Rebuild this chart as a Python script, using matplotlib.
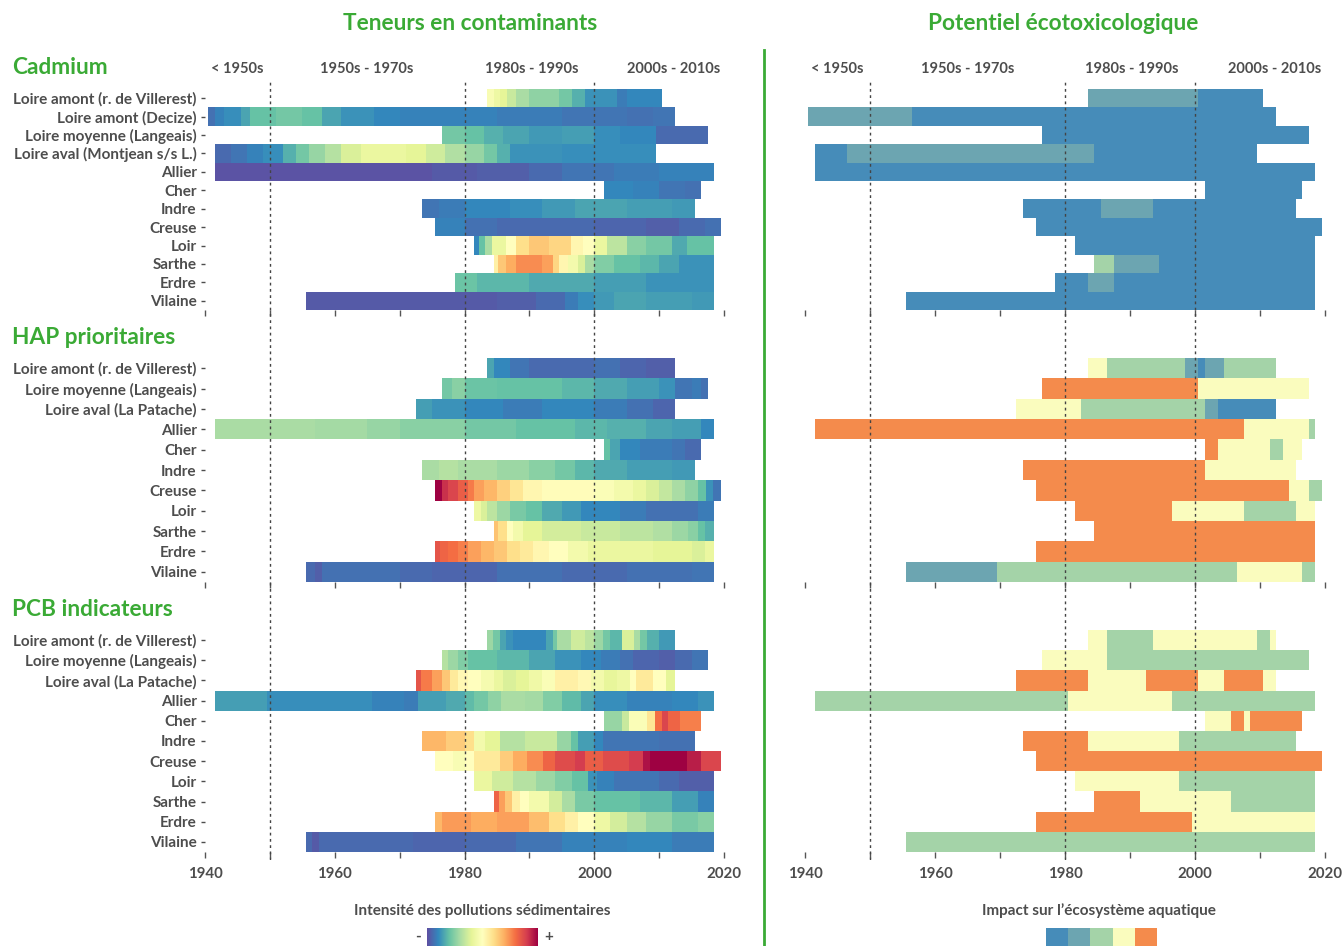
import matplotlib
matplotlib.use('Agg')
import matplotlib.pyplot as plt
import numpy as np
from matplotlib.colors import ListedColormap
from matplotlib.lines import Line2D

plt.rcParams['font.family'] = ['Lato', 'DejaVu Sans']
plt.rcParams['font.weight'] = 'bold'

# ---------------- DATA ----------------
decade_labels = ['< 1950s', '1950s - 1970s', '1980s - 1990s', '2000s - 2010s']
decade_pos = [1945, 1965, 1990.3, 2012.3]
decade_lines = [1950, 1980, 2000]

cd_rows = ['Loire amont (r. de Villerest)', 'Loire amont (Decize)', 'Loire moyenne (Langeais)',
           'Loire aval (Montjean s/s L.)', 'Allier', 'Cher', 'Indre', 'Creuse', 'Loir', 'Sarthe',
           'Erdre', 'Vilaine']
cd_end = [2010.5, 2012.5, 2017.5, 2009.5, 2018.5, 2016.5, 2015.5, 2019.5, 2018.5, 2018.5, 2018.5, 2018.5]
cd_breaks = [
    [1983.5, 1984.5, 1985.5, 1986.5, 1988, 1990, 1994.5, 1996.5, 1998.5, 2003.5, 2005],
    [1940.5, 1941.5, 1943, 1945.5, 1947, 1951, 1955, 1958, 1961, 1966, 1970, 1985, 1995, 2005, 2009],
    [1976.5, 1980, 1983, 1986, 1990, 1995, 2000, 2004, 2009.5],
    [1941.5, 1944, 1946.5, 1949, 1952, 1954, 1956, 1958.5, 1961, 1964, 1971, 1974, 1977, 1980, 1983, 1985, 1987, 1995],
    [1941.5, 1975, 1982, 1990, 1995, 2003, 2010],
    [2001.5, 2006, 2010, 2014],
    [1973.5, 1976, 1980, 1987, 1992, 1997, 2005, 2012],
    [1975.5, 1980, 1985, 2000, 2008, 2013, 2017],
    [1981.5, 1982.2, 1983.2, 1984.3, 1986.4, 1988, 1990, 1993, 1996.4, 1998.2, 2000, 2002, 2005, 2008, 2012, 2014.3],
    [1984.5, 1985.2, 1986.4, 1988, 1992, 1993.6, 1994.6, 1996, 1997.5, 1998.5, 2000, 2003, 2007, 2010, 2013],
    [1978.5, 1982, 1990, 2000, 2008],
    [1955.5, 1985, 1991, 1995.5, 1997.5, 2000, 2003, 2008, 2015],
]
cd_vals = [
    [0.47, 0.43, 0.4, 0.35, 0.3, 0.26, 0.22, 0.17, 0.12, 0.08, 0.1],
    [0.06, 0.09, 0.11, 0.15, 0.2, 0.22, 0.2, 0.15, 0.12, 0.1, 0.09, 0.08, 0.07, 0.06, 0.07],
    [0.22, 0.2, 0.17, 0.15, 0.13, 0.14, 0.11, 0.1, 0.05],
    [0.05, 0.07, 0.09, 0.11, 0.17, 0.22, 0.27, 0.32, 0.38, 0.42, 0.4, 0.36, 0.31, 0.27, 0.22, 0.17, 0.12, 0.11],
    [0.01, 0.02, 0.03, 0.05, 0.07, 0.08, 0.09],
    [0.1, 0.09, 0.07, 0.06],
    [0.07, 0.08, 0.1, 0.11, 0.13, 0.15, 0.14, 0.13],
    [0.09, 0.06, 0.05, 0.04, 0.03, 0.05, 0.06],
    [0.1, 0.2, 0.3, 0.42, 0.5, 0.6, 0.65, 0.62, 0.53, 0.5, 0.42, 0.33, 0.25, 0.22, 0.16, 0.2],
    [0.55, 0.65, 0.7, 0.75, 0.72, 0.62, 0.53, 0.45, 0.38, 0.3, 0.24, 0.2, 0.18, 0.15, 0.12],
    [0.21, 0.18, 0.16, 0.14, 0.12],
    [0.02, 0.03, 0.05, 0.08, 0.11, 0.13, 0.15, 0.14, 0.13],
]
cd_imp_breaks = [
    [1983.5, 2000.5], [1940.5, 1956.5], [1976.5], [1941.5, 1946.5, 1984.5], [1941.5], [2001.5],
    [1973.5, 1985.5, 1993.5], [1975.5], [1981.5], [1984.5, 1987.5, 1994.5], [1978.5, 1983.5, 1987.5], [1955.5],
]
cd_imp_cats = [[1, 0], [1, 0], [0], [0, 1, 0], [0], [0], [0, 1, 0], [0], [0], [2, 1, 0], [0, 1, 0], [0]]

hap_rows = ['Loire amont (r. de Villerest)', 'Loire moyenne (Langeais)', 'Loire aval (La Patache)',
            'Allier', 'Cher', 'Indre', 'Creuse', 'Loir', 'Sarthe', 'Erdre', 'Vilaine']
hap_end = [2012.5, 2017.5, 2012.5, 2018.5, 2016.5, 2015.5, 2019.5, 2018.5, 2018.5, 2018.5, 2018.5]
hap_breaks = [
    [1983.5, 1984.5, 1987, 1990, 2000, 2004, 2008],
    [1976.5, 1978, 1980, 1985, 1995, 2000, 2005, 2010, 2012.5, 2015, 2016.5],
    [1972.5, 1975, 1980, 1986, 1992, 2000, 2005, 2009],
    [1941.5, 1957, 1965, 1970, 1980, 1988, 1997, 2002, 2008, 2012, 2016.5],
    [2001.5, 2002.5, 2004, 2007, 2012, 2014],
    [1973.5, 1976, 1979, 1985, 1990, 1994, 1997, 2000, 2005, 2012],
    [1975.5, 1976.5, 1977.5, 1979, 1980.5, 1981.5, 1983, 1985, 1987, 1989, 1992, 2000, 2003, 2006, 2008, 2010, 2012, 2014, 2016, 2017.2, 2018.3],
    [1981.5, 1982.5, 1983.5, 1985, 1987, 1989.5, 1992, 1995, 1998, 2004, 2008, 2016],
    [1984.5, 1985.2, 1986.5, 1987.5, 1989, 1992, 1998, 2004, 2009, 2012, 2014.5, 2016, 2017],
    [1975.5, 1976.3, 1977.5, 1979, 1980.5, 1982.5, 1984.5, 1986.5, 1988.5, 1990.5, 1993, 1996, 1999, 2009, 2015, 2017],
    [1955.5, 1957, 1958, 1970, 1975, 1985, 1995, 2005, 2015],
]
hap_vals = [
    [0.15, 0.1, 0.07, 0.05, 0.06, 0.04, 0.03],
    [0.22, 0.25, 0.21, 0.2, 0.18, 0.16, 0.14, 0.12, 0.07, 0.08, 0.06],
    [0.14, 0.12, 0.1, 0.08, 0.1, 0.08, 0.06, 0.04],
    [0.3, 0.29, 0.27, 0.25, 0.22, 0.2, 0.18, 0.17, 0.15, 0.14, 0.1],
    [0.2, 0.15, 0.1, 0.08, 0.07, 0.05],
    [0.3, 0.32, 0.3, 0.28, 0.25, 0.22, 0.18, 0.16, 0.14, 0.13],
    [1.0, 0.92, 0.88, 0.83, 0.78, 0.72, 0.68, 0.63, 0.58, 0.53, 0.51, 0.48, 0.45, 0.42, 0.38, 0.34, 0.3, 0.26, 0.2, 0.12, 0.07],
    [0.43, 0.38, 0.33, 0.28, 0.23, 0.2, 0.16, 0.13, 0.1, 0.08, 0.06, 0.08],
    [0.66, 0.6, 0.5, 0.45, 0.4, 0.37, 0.35, 0.33, 0.31, 0.28, 0.25, 0.2, 0.17],
    [0.85, 0.82, 0.8, 0.77, 0.72, 0.68, 0.65, 0.6, 0.57, 0.53, 0.5, 0.45, 0.42, 0.4, 0.38, 0.42],
    [0.05, 0.03, 0.06, 0.05, 0.04, 0.06, 0.05, 0.06, 0.07],
]
hap_imp_breaks = [
    [1983.5, 1986.5, 1998.5, 2000.5, 2001.5, 2004.5], [1976.5, 2000.5], [1972.5, 1982.5, 2001.5, 2003.5],
    [1941.5, 2007.5, 2017.5], [2001.5, 2003.5, 2011.5, 2013.5], [1973.5, 2001.5], [1975.5, 2014.5, 2017.5],
    [1981.5, 1996.5, 2007.5, 2015.5], [1984.5], [1975.5], [1955.5, 1969.5, 2006.5, 2016.5],
]
hap_imp_cats = [[3, 2, 1, 0, 1, 2], [4, 3], [3, 2, 1, 0], [4, 3, 2], [4, 3, 2, 3], [4, 3], [4, 3, 2],
                [4, 3, 2, 3], [4], [4], [1, 2, 3, 2]]

pcb_rows = hap_rows
pcb_end = hap_end
pcb_breaks = [
    [1983.5, 1984.4, 1985.4, 1986.4, 1987.5, 1992.5, 1993.6, 1994.3, 1996.4, 1998.6, 2000, 2001.4, 2002.5, 2004.3, 2006.1, 2007.1, 2008.2, 2010],
    [1976.5, 1977.5, 1979, 1980.5, 1985, 1990, 1994, 1998, 2001, 2004, 2006, 2010, 2012.5, 2015],
    [1972.5, 1973.3, 1975, 1976.5, 1977.8, 1979, 1980.5, 1982.5, 1984.5, 1986, 1988, 1990, 1992, 1994, 1997.5, 1999.5, 2001.5, 2003.5, 2005.5, 2006.5, 2009, 2011],
    [1941.5, 1949.6, 1965.7, 1970.7, 1972.9, 1977.1, 1980, 1981.4, 1983.6, 1985.7, 1989.3, 1992.1, 1995, 1997.9, 2000, 2005, 2012, 2016],
    [2001.5, 2004.3, 2005.4, 2008.2, 2009.3, 2010.4, 2011.4, 2013.2],
    [1973.5, 1977.1, 1980, 1981.4, 1983.2, 1985.4, 1989.3, 1994.3, 1996.4, 1997.5, 2000, 2001.4, 2010],
    [1975.5, 1978.2, 1980, 1981.4, 1985.4, 1987.5, 1989.6, 1992.1, 1993.9, 1997.1, 1998.6, 2001.4, 2005.4, 2007.5, 2008.6, 2014.3, 2016.4],
    [1981.5, 1984.3, 1987.5, 1991, 1994, 1996.5, 1999, 2000.5, 2003, 2010, 2013],
    [1984.5, 1985.3, 1986.3, 1987.3, 1988.5, 1990, 1993, 1995, 1997, 2000, 2007, 2012, 2016],
    [1975.5, 1976.5, 1981, 1985, 1990, 1993, 1995.5, 1997.5, 2000, 2002.5, 2005, 2008, 2012, 2016],
    [1955.5, 1956.5, 1957.5, 1972, 1980, 1988, 1995, 2005, 2012],
]
pcb_vals = [
    [0.28, 0.22, 0.15, 0.12, 0.1, 0.15, 0.22, 0.3, 0.36, 0.33, 0.28, 0.22, 0.18, 0.38, 0.3, 0.22, 0.17, 0.13],
    [0.32, 0.28, 0.24, 0.2, 0.18, 0.15, 0.12, 0.1, 0.08, 0.06, 0.04, 0.03, 0.05, 0.07],
    [0.85, 0.78, 0.72, 0.65, 0.57, 0.52, 0.5, 0.46, 0.42, 0.38, 0.4, 0.44, 0.48, 0.55, 0.52, 0.45, 0.41, 0.43, 0.5, 0.57, 0.5, 0.4],
    [0.14, 0.11, 0.09, 0.08, 0.14, 0.16, 0.19, 0.22, 0.26, 0.3, 0.29, 0.24, 0.19, 0.15, 0.11, 0.09, 0.1, 0.12],
    [0.27, 0.35, 0.48, 0.58, 0.8, 0.88, 0.82, 0.77],
    [0.68, 0.64, 0.6, 0.45, 0.4, 0.32, 0.35, 0.27, 0.2, 0.14, 0.1, 0.07, 0.06],
    [0.5, 0.47, 0.5, 0.57, 0.64, 0.7, 0.75, 0.82, 0.87, 0.9, 0.83, 0.87, 0.9, 0.97, 1.0, 0.95, 0.88],
    [0.42, 0.36, 0.32, 0.28, 0.24, 0.2, 0.12, 0.09, 0.07, 0.05, 0.03],
    [0.82, 0.72, 0.65, 0.55, 0.5, 0.45, 0.37, 0.3, 0.23, 0.2, 0.18, 0.14, 0.09],
    [0.68, 0.73, 0.7, 0.72, 0.67, 0.6, 0.55, 0.5, 0.43, 0.37, 0.32, 0.27, 0.23, 0.25],
    [0.05, 0.02, 0.05, 0.04, 0.05, 0.07, 0.09, 0.1, 0.08],
]
pcb_imp_breaks = [
    [1983.5, 1986.5, 1993.5, 2009.5, 2011.5], [1976.5, 1986.5], [1972.5, 1983.5, 1992.5, 2000.5, 2004.5, 2010.5],
    [1941.5, 1980.5, 1996.5], [2001.5, 2005.5, 2007.5, 2008.5], [1973.5, 1983.5, 1997.5], [1975.5],
    [1981.5, 1997.5], [1984.5, 1991.5, 2005.5], [1975.5, 1999.5], [1955.5],
]
pcb_imp_cats = [[3, 2, 3, 2, 3], [3, 2], [4, 3, 4, 3, 4, 3], [2, 3, 2], [3, 4, 3, 4], [4, 3, 2], [4],
                [3, 2], [4, 3, 2], [4, 3], [2]]

panel_titles = ['Cadmium', 'HAP prioritaires', 'PCB indicateurs']
col_titles = ['Teneurs en contaminants', 'Potentiel écotoxicologique']
legend_titles = ['Intensité des pollutions sédimentaires', 'Impact sur l\u2019écosystème aquatique']
impact_colors = ['#468cb9', '#6ca5b1', '#a4d3a8', '#fafcbe', '#f48b4c']

# ---------------- STYLE ----------------
W, H = 1344, 946
GREEN = '#3aaa35'
GREY = '#4d4d4d'
cmap = plt.get_cmap('Spectral_r')
icmap = ListedColormap(impact_colors)

fig = plt.figure(figsize=(W / 100, H / 100), dpi=100)

def fx(px):
    return px / W

def fy(py):
    return 1 - py / H

# panel vertical extents (pixel top, bottom)
panel_px = [(89, 310), (358, 582), (630, 852)]
left_x = (205, 724)
right_x = (805, 1325)

panels = [
    (cd_rows, cd_end, cd_breaks, cd_vals, cd_imp_breaks, cd_imp_cats),
    (hap_rows, hap_end, hap_breaks, hap_vals, hap_imp_breaks, hap_imp_cats),
    (pcb_rows, pcb_end, pcb_breaks, pcb_vals, pcb_imp_breaks, pcb_imp_cats),
]

def style_axes(ax, nrows, ylabels=None, xlabels=False):
    ax.set_xlim(1940, 2020)
    ax.set_ylim(nrows - 0.5, -0.5)
    for s in ax.spines.values():
        s.set_visible(False)
    ax.set_xticks(np.arange(1940, 2021, 20))
    ax.set_xticks(np.arange(1950, 2020, 20), minor=True)
    ax.tick_params(axis='x', which='both', length=4, width=1, color='#555555',
                   labelsize=10.8, labelcolor=GREY, pad=7, labelbottom=xlabels)
    if ylabels is not None:
        ax.set_yticks(range(nrows))
        ax.set_yticklabels(ylabels)
        ax.tick_params(axis='y', length=3, width=1, pad=3, color=GREY,
                       labelsize=11, labelcolor=GREY)
    else:
        ax.set_yticks([])
    ax.set_facecolor('none')

axes_left, axes_right = [], []
for k, (rows, ends, brks, vals, ibrks, icats) in enumerate(panels):
    top, bot = panel_px[k]
    axL = fig.add_axes([fx(left_x[0]), fy(bot), fx(left_x[1] - left_x[0]), (bot - top) / H])
    axR = fig.add_axes([fx(right_x[0]), fy(bot), fx(right_x[1] - right_x[0]), (bot - top) / H])
    for i in range(len(rows)):
        edges = list(brks[i]) + [ends[i]]
        axL.pcolormesh(edges, [i - 0.5, i + 0.5], np.array([vals[i]]), cmap=cmap, vmin=0, vmax=1,
                       shading='flat', antialiased=False, edgecolors='none')
        iedges = list(ibrks[i]) + [ends[i]]
        axR.pcolormesh(iedges, [i - 0.5, i + 0.5], np.array([icats[i]]), cmap=icmap, vmin=-0.5, vmax=4.5,
                       shading='flat', antialiased=False, edgecolors='none')
    style_axes(axL, len(rows), ylabels=rows, xlabels=(k == 2))
    style_axes(axR, len(rows), ylabels=None, xlabels=(k == 2))
    fig.text(fx(12), fy([68, 337, 609][k]), panel_titles[k], ha='left', va='center',
             color=GREEN, fontsize=16.3, fontweight='bold')
    axes_left.append(axL)
    axes_right.append(axR)

# decade labels above the first panels
for ax in (axes_left[0], axes_right[0]):
    for lab, pos in zip(decade_labels, decade_pos):
        ax.text(pos, 1 + (89 - 69) / (310 - 89), lab, transform=ax.get_xaxis_transform(),
                ha='center', va='center', fontsize=10.5, color=GREY, fontweight='bold')

# dotted decade separators, spanning all panels
for xr in (left_x, right_x):
    ov = fig.add_axes([fx(xr[0]), fy(860), fx(xr[1] - xr[0]), (860 - 80) / H], zorder=5)
    ov.set_xlim(1940, 2020)
    ov.set_ylim(0, 1)
    ov.axis('off')
    for d in decade_lines:
        ov.axvline(d, color='#444444', lw=1, ls=(0, (2, 2.5)))

# column titles
fig.text(fx(470), fy(23), col_titles[0], ha='center', va='center', color=GREEN, fontsize=16.3, fontweight='bold')
fig.text(fx(1063), fy(23), col_titles[1], ha='center', va='center', color=GREEN, fontsize=16.3, fontweight='bold')

# separator
fig.add_artist(Line2D([fx(764), fx(764)], [0, fy(50)], color=GREEN, lw=2))

# legends
fig.text(fx(482), fy(911), legend_titles[0], ha='center', va='center', color=GREY, fontsize=11, fontweight='bold')
fig.text(fx(1099), fy(911), legend_titles[1], ha='center', va='center', color=GREY, fontsize=11, fontweight='bold')

cax = fig.add_axes([fx(427), 0, fx(538 - 427), 18 / H])
cax.imshow(np.linspace(0, 1, 256)[None, :], cmap=cmap, aspect='auto', extent=[0, 1, 0, 1])
cax.axis('off')
fig.text(fx(418), fy(937), '-', ha='center', va='center', color=GREY, fontsize=11, fontweight='bold')
fig.text(fx(549), fy(937), '+', ha='center', va='center', color=GREY, fontsize=11, fontweight='bold')

iax = fig.add_axes([fx(1046), 0, fx(1157 - 1046), 18 / H])
iax.imshow(np.arange(5)[None, :], cmap=icmap, vmin=-0.5, vmax=4.5, aspect='auto', extent=[0, 5, 0, 1])
iax.axis('off')

fig.savefig('out.png', dpi=100)
